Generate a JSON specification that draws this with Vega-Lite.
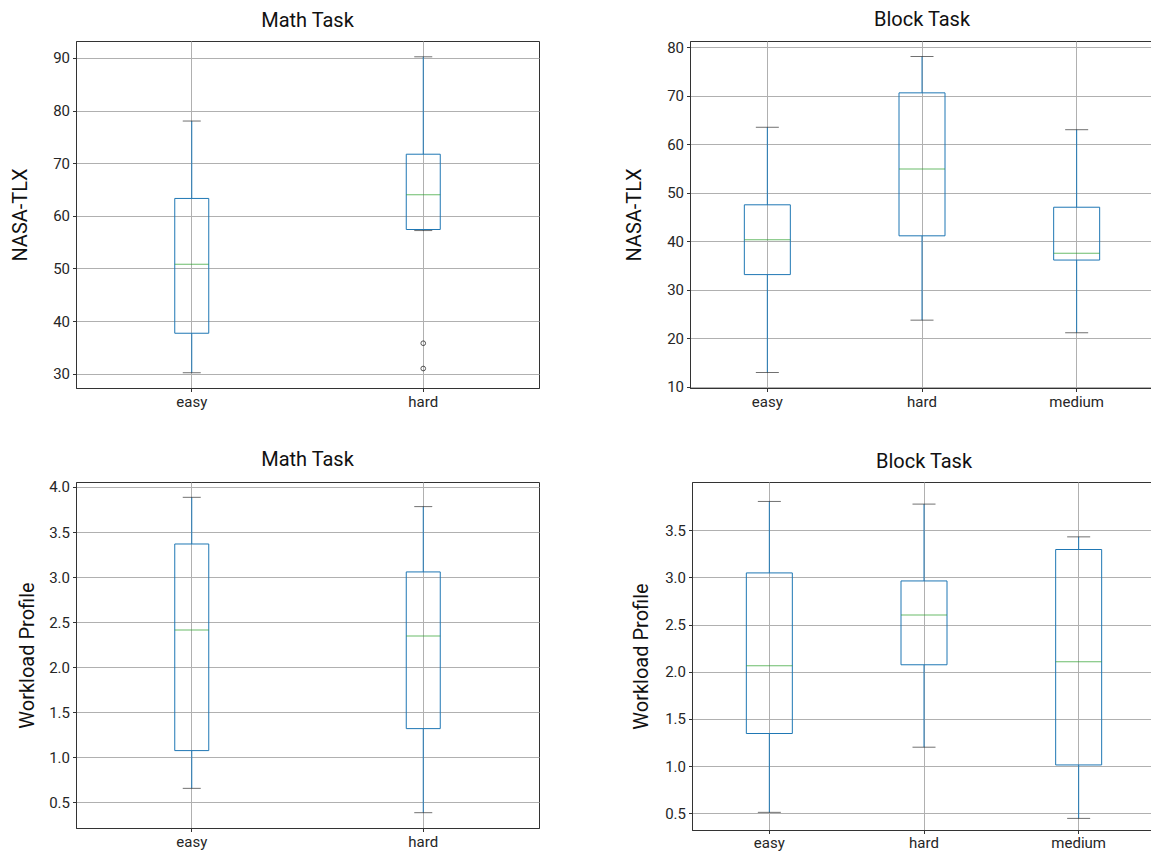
{
  "$schema": "https://vega.github.io/schema/vega-lite/v6.json",
  "padding": {"left": 9, "top": 9, "right": 0, "bottom": 0},
  "datasets": {
    "stats": [
      {"task": "Math Task", "metric": "NASA-TLX", "level": "easy", "lo": 30.2, "q1": 37.7, "med": 50.8, "q3": 63.3, "hi": 78.0},
      {"task": "Math Task", "metric": "NASA-TLX", "level": "hard", "lo": 57.2, "q1": 57.4, "med": 64.0, "q3": 71.7, "hi": 90.2},
      {"task": "Block Task", "metric": "NASA-TLX", "level": "easy", "lo": 12.9, "q1": 33.1, "med": 40.3, "q3": 47.5, "hi": 63.5},
      {"task": "Block Task", "metric": "NASA-TLX", "level": "hard", "lo": 23.7, "q1": 41.1, "med": 54.9, "q3": 70.6, "hi": 78.1},
      {"task": "Block Task", "metric": "NASA-TLX", "level": "medium", "lo": 21.1, "q1": 36.1, "med": 37.5, "q3": 47.0, "hi": 63.0},
      {"task": "Math Task", "metric": "Workload Profile", "level": "easy", "lo": 0.655, "q1": 1.074, "med": 2.413, "q3": 3.367, "hi": 3.885},
      {"task": "Math Task", "metric": "Workload Profile", "level": "hard", "lo": 0.385, "q1": 1.318, "med": 2.346, "q3": 3.057, "hi": 3.782},
      {"task": "Block Task", "metric": "Workload Profile", "level": "easy", "lo": 0.511, "q1": 1.346, "med": 2.064, "q3": 3.047, "hi": 3.804},
      {"task": "Block Task", "metric": "Workload Profile", "level": "hard", "lo": 1.201, "q1": 2.074, "med": 2.602, "q3": 2.962, "hi": 3.776},
      {"task": "Block Task", "metric": "Workload Profile", "level": "medium", "lo": 0.447, "q1": 1.013, "med": 2.106, "q3": 3.295, "hi": 3.429}
    ],
    "outliers": [
      {"task": "Math Task", "metric": "NASA-TLX", "level": "hard", "value": 35.8},
      {"task": "Math Task", "metric": "NASA-TLX", "level": "hard", "value": 31.0}
    ]
  },
  "vconcat": [
    {
      "hconcat": [
        {
          "width": 463, "height": 347,
          "title": "Math Task",
          "data": {"name": "stats"},
          "transform": [{"filter": "datum.task === 'Math Task' && datum.metric === 'NASA-TLX'"}],
          "encoding": {"x": {"field": "level", "type": "nominal", "title": null, "scale": {"paddingInner": 0, "paddingOuter": 0}}},
          "layer": [
            {"mark": {"type": "rule", "color": "#1f77b4"}, "encoding": {"y": {"field": "q3", "type": "quantitative", "title": "NASA-TLX", "scale": {"domain": [27.3, 93.2], "nice": false, "zero": false}, "axis": {"values": [30, 40, 50, 60, 70, 80, 90], "minExtent": 24, "maxExtent": 24, "titlePadding": 22}}, "y2": {"field": "hi"}}},
            {"mark": {"type": "rule", "color": "#1f77b4"}, "encoding": {"y": {"field": "lo", "type": "quantitative", "title": "NASA-TLX"}, "y2": {"field": "q1"}}},
            {"mark": {"type": "bar", "fill": "transparent", "stroke": "#1f77b4", "strokeWidth": 1, "size": 34}, "encoding": {"y": {"field": "q1", "type": "quantitative", "title": "NASA-TLX"}, "y2": {"field": "q3"}}},
            {"mark": {"type": "tick", "color": "#2ca02c", "size": 34, "thickness": 1}, "encoding": {"y": {"field": "med", "type": "quantitative", "title": "NASA-TLX"}}},
            {"mark": {"type": "tick", "color": "#333", "size": 18, "thickness": 1}, "encoding": {"y": {"field": "hi", "type": "quantitative", "title": "NASA-TLX"}}},
            {"mark": {"type": "tick", "color": "#333", "size": 18, "thickness": 1}, "encoding": {"y": {"field": "lo", "type": "quantitative", "title": "NASA-TLX"}}},
            {"data": {"name": "outliers"}, "transform": [{"filter": "datum.task === 'Math Task' && datum.metric === 'NASA-TLX'"}], "mark": {"type": "point", "shape": "circle", "filled": false, "color": "#111", "size": 22, "strokeWidth": 1}, "encoding": {"y": {"field": "value", "type": "quantitative", "title": "NASA-TLX"}}}
          ]
        },
        {
          "width": 464, "height": 347,
          "title": "Block Task",
          "data": {"name": "stats"},
          "transform": [{"filter": "datum.task === 'Block Task' && datum.metric === 'NASA-TLX'"}],
          "encoding": {"x": {"field": "level", "type": "nominal", "title": null, "scale": {"paddingInner": 0, "paddingOuter": 0}}},
          "layer": [
            {"mark": {"type": "rule", "color": "#1f77b4"}, "encoding": {"y": {"field": "q3", "type": "quantitative", "title": "NASA-TLX", "scale": {"domain": [9.7, 81.3], "nice": false, "zero": false}, "axis": {"values": [10, 20, 30, 40, 50, 60, 70, 80], "minExtent": 23.5, "maxExtent": 23.5, "titlePadding": 22}}, "y2": {"field": "hi"}}},
            {"mark": {"type": "rule", "color": "#1f77b4"}, "encoding": {"y": {"field": "lo", "type": "quantitative", "title": "NASA-TLX"}, "y2": {"field": "q1"}}},
            {"mark": {"type": "bar", "fill": "transparent", "stroke": "#1f77b4", "strokeWidth": 1, "size": 46}, "encoding": {"y": {"field": "q1", "type": "quantitative", "title": "NASA-TLX"}, "y2": {"field": "q3"}}},
            {"mark": {"type": "tick", "color": "#2ca02c", "size": 46, "thickness": 1}, "encoding": {"y": {"field": "med", "type": "quantitative", "title": "NASA-TLX"}}},
            {"mark": {"type": "tick", "color": "#333", "size": 23, "thickness": 1}, "encoding": {"y": {"field": "hi", "type": "quantitative", "title": "NASA-TLX"}}},
            {"mark": {"type": "tick", "color": "#333", "size": 23, "thickness": 1}, "encoding": {"y": {"field": "lo", "type": "quantitative", "title": "NASA-TLX"}}}
          ]
        }
      ],
      "spacing": 84
    },
    {
      "hconcat": [
        {
          "width": 463, "height": 346,
          "title": "Math Task",
          "data": {"name": "stats"},
          "transform": [{"filter": "datum.task === 'Math Task' && datum.metric === 'Workload Profile'"}],
          "encoding": {"x": {"field": "level", "type": "nominal", "title": null, "scale": {"paddingInner": 0, "paddingOuter": 0}}},
          "layer": [
            {"mark": {"type": "rule", "color": "#1f77b4"}, "encoding": {"y": {"field": "q3", "type": "quantitative", "title": "Workload Profile", "scale": {"domain": [0.215, 4.055], "nice": false, "zero": false}, "axis": {"values": [0.5, 1.0, 1.5, 2.0, 2.5, 3.0, 3.5, 4.0], "format": ".1f", "minExtent": 27, "maxExtent": 27, "titlePadding": 12}}, "y2": {"field": "hi"}}},
            {"mark": {"type": "rule", "color": "#1f77b4"}, "encoding": {"y": {"field": "lo", "type": "quantitative", "title": "Workload Profile"}, "y2": {"field": "q1"}}},
            {"mark": {"type": "bar", "fill": "transparent", "stroke": "#1f77b4", "strokeWidth": 1, "size": 34}, "encoding": {"y": {"field": "q1", "type": "quantitative", "title": "Workload Profile"}, "y2": {"field": "q3"}}},
            {"mark": {"type": "tick", "color": "#2ca02c", "size": 34, "thickness": 1}, "encoding": {"y": {"field": "med", "type": "quantitative", "title": "Workload Profile"}}},
            {"mark": {"type": "tick", "color": "#333", "size": 18, "thickness": 1}, "encoding": {"y": {"field": "hi", "type": "quantitative", "title": "Workload Profile"}}},
            {"mark": {"type": "tick", "color": "#333", "size": 18, "thickness": 1}, "encoding": {"y": {"field": "lo", "type": "quantitative", "title": "Workload Profile"}}}
          ]
        },
        {
          "width": 464, "height": 348,
          "title": "Block Task",
          "data": {"name": "stats"},
          "transform": [{"filter": "datum.task === 'Block Task' && datum.metric === 'Workload Profile'"}],
          "encoding": {"x": {"field": "level", "type": "nominal", "title": null, "scale": {"paddingInner": 0, "paddingOuter": 0}, "axis": {"labelPadding": 2}}},
          "layer": [
            {"mark": {"type": "rule", "color": "#1f77b4"}, "encoding": {"y": {"field": "q3", "type": "quantitative", "title": "Workload Profile", "scale": {"domain": [0.324, 4.01], "nice": false, "zero": false}, "axis": {"values": [0.5, 1.0, 1.5, 2.0, 2.5, 3.0, 3.5], "format": ".1f", "minExtent": 27, "maxExtent": 27, "titlePadding": 14}}, "y2": {"field": "hi"}}},
            {"mark": {"type": "rule", "color": "#1f77b4"}, "encoding": {"y": {"field": "lo", "type": "quantitative", "title": "Workload Profile"}, "y2": {"field": "q1"}}},
            {"mark": {"type": "bar", "fill": "transparent", "stroke": "#1f77b4", "strokeWidth": 1, "size": 46}, "encoding": {"y": {"field": "q1", "type": "quantitative", "title": "Workload Profile"}, "y2": {"field": "q3"}}},
            {"mark": {"type": "tick", "color": "#2ca02c", "size": 46, "thickness": 1}, "encoding": {"y": {"field": "med", "type": "quantitative", "title": "Workload Profile"}}},
            {"mark": {"type": "tick", "color": "#333", "size": 23, "thickness": 1}, "encoding": {"y": {"field": "hi", "type": "quantitative", "title": "Workload Profile"}}},
            {"mark": {"type": "tick", "color": "#333", "size": 23, "thickness": 1}, "encoding": {"y": {"field": "lo", "type": "quantitative", "title": "Workload Profile"}}}
          ]
        }
      ],
      "spacing": 90
    }
  ],
  "spacing": 39,
  "config": {
    "view": {"stroke": "#333", "strokeWidth": 1},
    "axis": {
      "gridColor": "#b0b0b0", "gridWidth": 1, "gridOpacity": 1,
      "domainColor": "#333", "tickColor": "#333", "tickSize": 3.5,
      "labelFont": "Roboto", "labelFontSize": 15, "labelColor": "#262626", "labelPadding": 3,
      "titleFont": "Roboto", "titleFontSize": 20, "titleFontWeight": "normal", "titleColor": "#111"
    },
    "axisX": {"labelAngle": 0, "grid": true},
    "title": {"font": "Roboto", "fontSize": 20, "fontWeight": "normal", "color": "#111", "offset": 10}
  }
}
